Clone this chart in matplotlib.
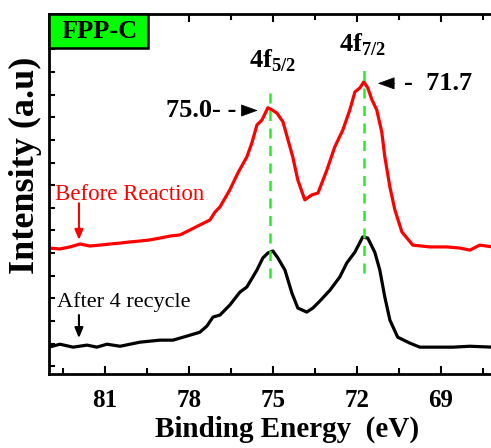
import numpy as np
import matplotlib
matplotlib.use("Agg")
import matplotlib.pyplot as plt
from matplotlib.patches import Rectangle

plt.rcParams['font.family'] = ['Liberation Serif', 'DejaVu Serif']
plt.rcParams['mathtext.fontset'] = 'custom'
plt.rcParams['mathtext.rm'] = 'Liberation Serif:bold'
plt.rcParams['mathtext.bf'] = 'Liberation Serif:bold'

# binding energy (eV) and intensity
be_before = [83.0, 82.61, 82.25, 81.89, 81.54, 81.18, 80.82, 80.46, 80.11, 79.75,
             79.39, 79.04, 78.68, 78.32, 77.96, 77.61, 77.25, 77.07, 76.89, 76.54,
             76.25, 75.93, 75.75, 75.57, 75.39, 75.18, 75.04, 74.86, 74.64, 74.46,
             74.29, 74.11, 73.86, 73.61, 73.39, 73.07, 72.79, 72.50, 72.25, 72.07,
             71.89, 71.75, 71.61, 71.46, 71.29, 71.11, 71.00, 70.82, 70.64, 70.39,
             70.00, 69.39, 68.79, 68.32, 67.96, 67.61, 67.14]
int_before = [5.22, 5.18, 5.27, 5.40, 5.31, 5.35, 5.40, 5.44, 5.49, 5.53,
              5.58, 5.66, 5.75, 5.80, 6.02, 6.24, 6.46, 6.81, 7.04, 7.79,
              8.54, 9.25, 9.87, 10.66, 10.88, 11.42, 11.33, 11.19, 10.80, 10.00,
              9.25, 8.23, 7.35, 7.57, 7.65, 8.67, 9.69, 10.44, 11.33, 12.12,
              12.30, 12.57, 12.30, 11.77, 11.33, 10.35, 9.25, 7.92, 6.90, 5.93,
              5.35, 5.27, 5.27, 5.22, 5.13, 5.35, 5.27]

be_after = [83.0, 82.61, 82.14, 81.64, 81.29, 80.93, 80.46, 79.75, 79.04, 78.57,
            78.07, 77.61, 77.36, 77.14, 76.89, 76.54, 76.18, 75.93, 75.57, 75.36,
            75.18, 75.00, 74.82, 74.57, 74.32, 74.11, 73.79, 73.57, 73.32, 72.96,
            72.61, 72.36, 72.07, 71.79, 71.61, 71.36, 71.18, 71.00, 70.82, 70.54,
            70.11, 69.75, 69.14, 68.57, 67.96, 67.14]
int_after = [0.84, 0.97, 0.84, 0.93, 0.84, 0.97, 0.88, 1.06, 1.15, 1.15,
             1.33, 1.50, 1.77, 2.17, 2.26, 2.70, 3.27, 3.50, 4.25, 4.78,
             5.00, 5.09, 4.78, 4.25, 3.23, 2.57, 2.39, 2.57, 2.88, 3.36,
             3.94, 4.56, 5.04, 5.71, 5.66, 5.04, 4.25, 3.05, 2.04, 1.28,
             1.02, 0.84, 0.84, 0.84, 0.88, 0.84]

peak_pos = [75.1, 71.75]
peak_names = ['4f$_{5/2}$', '4f$_{7/2}$']

fig = plt.figure(figsize=(4.91, 4.48), dpi=100)
ax = fig.add_axes([0.0998, 0.165, 0.904, 0.804])

ax.plot(be_before, int_before, color='red', lw=2.3)
ax.plot(be_after, int_after, color='black', lw=2.3)

# peak guide lines
ax.plot([peak_pos[0]] * 2, [3.9, 12.3], color='#22ee22', lw=1.8, ls=(0, (4, 3)))
ax.plot([peak_pos[1]] * 2, [4.1, 13.2], color='#22ee22', lw=1.8, ls=(0, (4, 3)))

ax.set_xlim(83.0, 67.14)
ax.set_ylim(-0.35, 15.57)
ax.set_xticks([81, 78, 75, 72, 69])
ax.set_xticks([82.5, 79.5, 76.5, 73.5, 70.5, 67.5], minor=True)
ax.set_yticks(np.arange(0, 16))
ax.set_yticklabels([])
ax.tick_params(axis='x', which='both', direction='in', top=True, width=1.5,
               labelsize=18, pad=11)
ax.tick_params(axis='x', which='major', length=6)
ax.tick_params(axis='x', which='minor', length=4)
ax.tick_params(axis='y', direction='in', length=4, width=1.5)
for lab in ax.get_xticklabels():
    lab.set_fontweight('bold')
for s in ax.spines.values():
    s.set_linewidth(2)

ax.set_xlabel('Binding Energy  (eV)', fontsize=21, fontweight='bold')
ax.xaxis.set_label_coords(0.536, -0.115)
ax.set_ylabel('Intensity (a.u)', fontsize=26, fontweight='bold')
ax.yaxis.set_label_coords(-0.015, 0.58)

# sample tag
ax.add_patch(Rectangle((0, 0.906), 0.222, 0.094, transform=ax.transAxes,
                       fc='#00ff00', ec='black', lw=1.8, zorder=5, clip_on=False))
ax.text(0.115, 0.952, 'FPP-C', transform=ax.transAxes, fontsize=19, fontweight='bold',
        va='center', ha='center', zorder=6)

ax.text(75.0, 13.5, peak_names[0], fontsize=19, fontweight='bold', ha='center', va='center')
ax.text(71.8, 14.2, peak_names[1], fontsize=19, fontweight='bold', ha='center', va='center')

arrow_k = dict(arrowstyle='-|>,head_length=1.1,head_width=0.4', color='black', lw=0.5,
               shrinkA=0, shrinkB=0)
ax.text(78.82, 11.3, '75.0- -', fontsize=19, fontweight='bold', ha='left', va='center')
ax.annotate('', xy=(75.54, 11.3), xytext=(76.12, 11.3), arrowprops=arrow_k)
ax.text(70.3, 12.5, '-  71.7', fontsize=19, fontweight='bold', ha='left', va='center')
ax.annotate('', xy=(71.25, 12.5), xytext=(70.64, 12.5), arrowprops=arrow_k)

ax.text(82.8, 7.6, 'Before Reaction', color='red', fontsize=16.5, ha='left', va='center')
ax.annotate('', xy=(81.93, 5.58), xytext=(81.93, 7.2),
            arrowprops=dict(arrowstyle='-|>,head_length=0.6,head_width=0.25', color='red',
                            lw=1.5, shrinkA=0, shrinkB=0))
ax.text(82.7, 2.82, 'After 4 recycle', color='black', fontsize=16, ha='left', va='center')
ax.annotate('', xy=(81.93, 1.24), xytext=(81.93, 2.26),
            arrowprops=dict(arrowstyle='-|>,head_length=0.6,head_width=0.25', color='black',
                            lw=1.5, shrinkA=0, shrinkB=0))

fig.savefig('out.png', dpi=100)
